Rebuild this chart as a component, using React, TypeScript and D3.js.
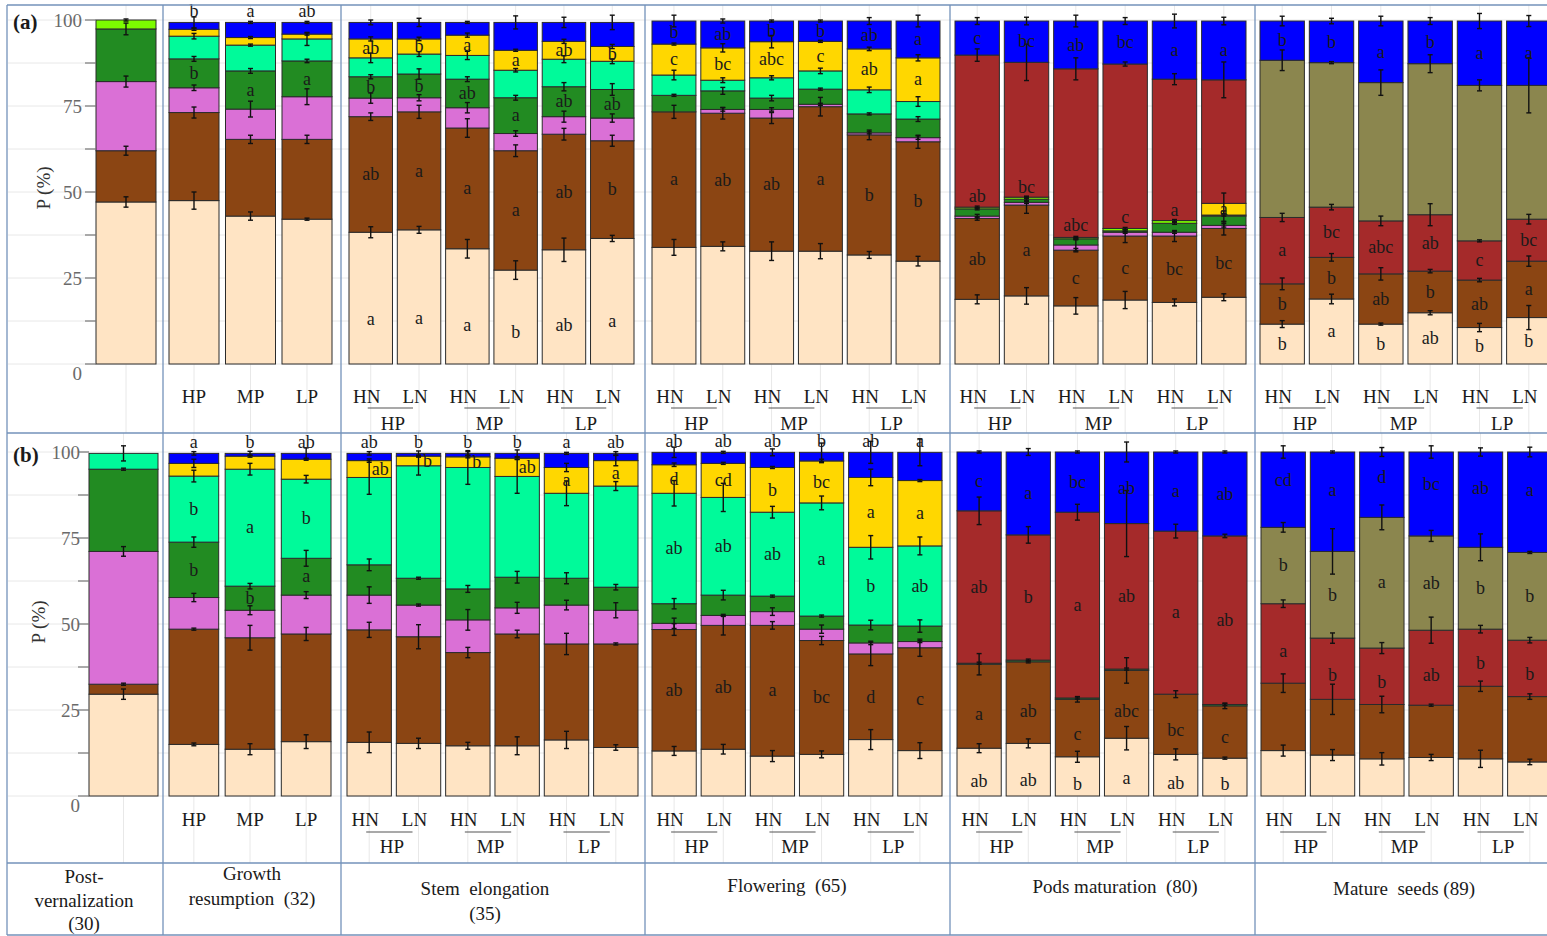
import * as d3 from "d3";

const W = 1547;
const H = 936;
const FONT = "'Liberation Serif', 'Times New Roman', serif";

const FILL: Record<string, string> = {
  bisque: "#FFE4C4",
  brown: "#8B4513",
  orchid: "#DA70D6",
  green: "#228B22",
  spring: "#00FA9A",
  lawn: "#7CFC00",
  gold: "#FFD700",
  red: "#A52A2A",
  khaki: "#8B864E",
  blue: "#0000FF",
};

// stack order per panel (bottom -> top)
const K_POST_A = ["bisque", "brown", "orchid", "green", "lawn"];
const K_POST_B = ["bisque", "brown", "orchid", "green", "spring"];
const K_MID = ["bisque", "brown", "orchid", "green", "spring", "gold", "blue"];
const K_PODS_A = ["bisque", "brown", "orchid", "green", "lawn", "gold", "red", "blue"];
const K_PODS_B = ["bisque", "brown", "green", "red", "blue"];
const K_SEED = ["bisque", "brown", "red", "khaki", "blue"];

const P_CATS = ["HP", "MP", "LP"];
const N_CATS = ["HN", "LN"];

const STAGE_LABELS = [
  ["Post-", "vernalization", "(30)"],
  ["Growth", "resumption  (32)"],
  ["Stem  elongation", "(35)"],
  ["Flowering  (65)"],
  ["Pods maturation  (80)"],
  ["Mature  seeds (89)"],
];

// ---------- (a) ----------
const postA = [[47.1, 14.9, 20.1, 15.3, 2.6]];
const postAErr = [[1.5, 1.3, 1.6, 1.7, 0.3]];

const growthA = [
  [47.5, 25.6, 7.2, 8.4, 6.6, 2.0, 2.0],
  [43.0, 22.3, 8.8, 11.1, 7.5, 2.2, 4.4],
  [42.1, 23.2, 12.4, 10.4, 6.4, 1.4, 3.4],
];
const growthAErr = [
  [2.5, 1.6, 0.8, 0.7, 0.8, 0.3, 1.6],
  [1.2, 1.2, 2.3, 0.7, 0.3, 0.3, 0.3],
  [0.3, 1.2, 2.3, 0.5, 1.9, 0.3, 0.3],
];
const growthALet = [
  ["", "", "", "b", "", "", "b"],
  ["", "", "", "a", "", "", "a"],
  ["", "", "", "a", "", "", "ab"],
];

const stemA = [
  [38.3, 33.6, 5.4, 6.2, 5.5, 5.5, 4.8],
  [39.0, 34.3, 4.1, 6.9, 5.8, 4.4, 4.8],
  [33.5, 35.1, 5.9, 8.3, 6.9, 5.9, 3.7],
  [27.3, 34.7, 5.0, 10.4, 8.0, 5.8, 8.1],
  [33.2, 33.6, 5.1, 8.7, 8.0, 5.2, 5.5],
  [36.5, 28.4, 6.6, 8.3, 8.2, 4.3, 7.0],
];
const stemAErr = [
  [1.6, 1.1, 1.5, 0.6, 1.4, 0.6, 0.7],
  [1.0, 1.9, 0.9, 1.5, 0.7, 0.5, 1.2],
  [2.7, 2.7, 1.5, 0.7, 1.2, 0.6, 0.3],
  [2.7, 1.7, 0.8, 0.7, 0.5, 0.3, 1.9],
  [3.4, 1.7, 1.6, 1.2, 1.0, 0.6, 1.5],
  [0.9, 1.6, 1.2, 1.7, 0.7, 0.6, 2.1],
];
const stemALet = [
  ["a", "ab", "", "b", "", "ab", ""],
  ["a", "a", "", "b", "", "b", ""],
  ["a", "a", "", "ab", "", "a", ""],
  ["b", "a", "", "a", "", "a", ""],
  ["ab", "ab", "", "ab", "", "ab", ""],
  ["a", "b", "", "ab", "", "b", ""],
];

const flowerA = [
  [33.9, 39.4, 0.0, 4.8, 5.9, 9.0, 6.7],
  [34.2, 38.7, 1.1, 5.4, 3.1, 9.4, 7.8],
  [32.8, 38.7, 2.5, 3.3, 5.9, 10.5, 6.0],
  [32.8, 42.0, 0.7, 4.4, 5.3, 8.6, 5.9],
  [31.7, 34.9, 0.6, 5.5, 7.0, 11.9, 8.1],
  [29.9, 34.7, 1.2, 5.4, 5.1, 12.7, 10.7],
];
const flowerAErr = [
  [2.3, 1.9, 0.0, 0.3, 1.4, 0.3, 1.7],
  [1.3, 1.7, 0.5, 1.0, 0.7, 1.2, 0.6],
  [2.7, 1.6, 0.5, 0.8, 0.6, 1.8, 0.3],
  [2.2, 2.7, 0.3, 0.3, 0.8, 0.3, 0.3],
  [1.0, 1.4, 0.3, 0.3, 0.8, 0.5, 1.0],
  [1.4, 1.9, 0.5, 0.7, 1.4, 0.9, 1.7],
];
const flowerALet = [
  ["", "a", "", "", "", "c", "b"],
  ["", "ab", "", "", "", "bc", "ab"],
  ["", "ab", "", "", "", "abc", "b"],
  ["", "a", "", "", "", "c", "b"],
  ["", "b", "", "", "", "ab", "ab"],
  ["", "b", "", "", "", "a", "a"],
];

const podsA = [
  [18.8, 23.5, 0.7, 2.1, 0.5, 0.0, 44.2, 9.9],
  [19.8, 26.4, 0.8, 0.9, 0.6, 0.0, 39.2, 12.0],
  [16.9, 16.2, 1.5, 1.8, 0.4, 0.0, 49.0, 13.9],
  [18.6, 18.6, 1.1, 0.4, 0.7, 0.0, 47.8, 12.5],
  [17.9, 19.3, 1.1, 2.6, 0.8, 0.0, 41.1, 16.9],
  [19.4, 20.0, 0.9, 2.7, 0.3, 3.4, 35.9, 17.1],
];
const podsAErr = [
  [1.3, 0.5, 0.5, 0.3, 0.3, 0.0, 1.8, 1.0],
  [2.4, 2.4, 0.3, 0.3, 0.3, 0.0, 5.3, 1.1],
  [2.4, 0.5, 1.7, 0.3, 0.3, 0.0, 3.2, 1.7],
  [2.5, 1.9, 0.3, 0.3, 0.3, 0.0, 0.6, 1.0],
  [1.0, 1.6, 0.3, 0.3, 0.3, 0.0, 1.6, 2.0],
  [1.0, 1.9, 0.5, 1.5, 0.3, 3.0, 5.2, 1.1],
];
const podsALet = [
  ["", "ab", "", "", "", "", "ab", "c"],
  ["", "a", "", "", "", "", "bc", "bc"],
  ["", "c", "", "", "", "", "abc", "ab"],
  ["", "c", "", "", "", "", "c", "bc"],
  ["", "bc", "", "", "", "", "a", "a"],
  ["", "bc", "", "", "", "a", "", "a"],
];

const seedA = [
  [11.6, 11.7, 19.3, 45.7, 11.4],
  [18.9, 12.1, 14.6, 42.0, 12.1],
  [11.6, 14.6, 15.4, 40.2, 17.9],
  [14.9, 12.1, 16.4, 43.9, 12.4],
  [10.6, 13.8, 11.4, 45.2, 18.7],
  [13.5, 16.4, 12.2, 38.9, 18.7],
];
const seedAErr = [
  [1.0, 1.7, 1.2, 3.0, 1.4],
  [1.4, 1.1, 0.8, 0.3, 0.8],
  [0.3, 1.8, 1.4, 3.7, 1.4],
  [0.6, 0.5, 3.2, 2.6, 1.0],
  [1.2, 0.5, 0.3, 1.6, 2.2],
  [3.5, 1.5, 1.4, 8.0, 1.6],
];
const seedALet = [
  ["b", "b", "a", "", "b"],
  ["a", "b", "bc", "", "b"],
  ["b", "ab", "abc", "", "a"],
  ["ab", "b", "ab", "", "b"],
  ["b", "ab", "c", "", "a"],
  ["b", "a", "bc", "", "a"],
];

// ---------- (b) ----------
const postB = [[29.6, 2.9, 38.6, 23.9, 4.6]];
const postBErr = [[1.5, 0.3, 1.4, 0.3, 2.2]];

const growthB = [
  [15.0, 33.5, 9.2, 16.1, 19.2, 3.7, 2.9],
  [13.6, 32.4, 8.0, 7.0, 34.0, 3.8, 0.8],
  [15.8, 31.3, 11.3, 10.7, 23.0, 5.8, 1.7],
];
const growthBErr = [
  [0.4, 0.3, 1.2, 1.5, 1.7, 1.2, 0.5],
  [1.6, 3.6, 1.3, 0.8, 1.7, 0.3, 0.6],
  [2.0, 1.9, 1.0, 2.3, 1.1, 0.3, 1.6],
];
const growthBLet = [
  ["", "", "", "b", "b", "", "a"],
  ["", "", "", "b", "a", "", "b"],
  ["", "", "", "a", "b", "", "ab"],
];

const stemB = [
  [15.6, 32.7, 10.1, 8.8, 25.4, 4.9, 2.1],
  [15.3, 31.0, 9.2, 7.8, 32.7, 2.8, 0.8],
  [14.6, 27.1, 9.5, 9.0, 35.3, 3.1, 1.0],
  [14.6, 32.5, 7.6, 8.9, 29.3, 5.3, 1.4],
  [16.3, 27.9, 11.3, 7.8, 24.7, 7.5, 4.1],
  [14.1, 30.1, 9.8, 6.7, 29.4, 7.4, 2.1],
];
const stemBErr = [
  [3.0, 2.2, 2.4, 1.7, 4.9, 0.5, 0.5],
  [1.5, 3.5, 0.3, 0.3, 2.7, 0.3, 0.7],
  [1.0, 1.5, 3.0, 1.0, 4.9, 0.3, 0.5],
  [2.6, 1.1, 1.6, 1.7, 4.9, 0.3, 1.0],
  [2.5, 3.1, 1.4, 1.6, 3.6, 1.2, 0.3],
  [0.8, 0.3, 2.2, 0.8, 1.3, 1.5, 0.5],
];
const stemBLet = [
  ["", "", "", "", "", "ab", "ab"],
  ["", "", "", "", "", "b", "b"],
  ["", "", "", "", "", "b", "b"],
  ["", "", "", "", "", "ab", "b"],
  ["", "", "", "", "", "a", "a"],
  ["", "", "", "", "", "a", "ab"],
];

const flowerB = [
  [13.1, 35.3, 1.8, 5.7, 32.1, 8.3, 3.6],
  [13.6, 36.0, 2.9, 5.9, 28.4, 9.9, 3.2],
  [11.6, 38.0, 4.0, 4.5, 24.4, 13.0, 4.4],
  [12.1, 33.1, 3.3, 3.8, 32.9, 12.2, 2.5],
  [16.4, 24.9, 3.2, 5.2, 22.6, 20.3, 7.3],
  [13.2, 29.9, 1.8, 4.5, 23.3, 19.0, 8.2],
];
const flowerBErr = [
  [1.3, 1.7, 1.5, 1.5, 3.7, 0.5, 1.5],
  [1.4, 2.8, 0.3, 1.4, 4.1, 0.3, 0.3],
  [1.6, 1.1, 1.1, 0.3, 1.7, 0.3, 1.0],
  [1.0, 1.2, 1.2, 0.3, 2.0, 0.5, 2.7],
  [2.9, 3.4, 0.5, 1.4, 3.4, 2.4, 3.2],
  [2.3, 2.5, 0.3, 1.8, 2.6, 0.3, 3.9],
];
const flowerBLet = [
  ["", "ab", "", "", "ab", "d", "ab"],
  ["", "ab", "", "", "ab", "cd", "ab"],
  ["", "a", "", "", "ab", "b", "ab"],
  ["", "bc", "", "", "a", "bc", "b"],
  ["", "d", "", "", "b", "a", "ab"],
  ["", "c", "", "", "ab", "a", "a"],
];

const podsB = [
  [13.9, 24.4, 0.3, 44.3, 17.1],
  [15.3, 23.7, 0.5, 36.4, 24.1],
  [11.4, 16.7, 0.4, 54.0, 17.5],
  [16.8, 19.7, 0.4, 42.3, 20.8],
  [12.1, 17.5, 0.0, 47.4, 23.0],
  [11.0, 15.2, 0.4, 49.0, 24.4],
];
const podsBErr = [
  [1.3, 3.1, 0.3, 4.0, 0.3],
  [1.3, 0.3, 0.3, 2.4, 1.0],
  [1.6, 0.8, 0.3, 2.3, 0.3],
  [3.4, 3.7, 0.3, 9.6, 2.9],
  [1.6, 1.0, 0.0, 2.0, 0.3],
  [0.3, 0.8, 0.3, 0.5, 0.3],
];
const podsBLet = [
  ["ab", "a", "", "ab", "c"],
  ["ab", "ab", "", "b", "a"],
  ["b", "c", "", "a", "bc"],
  ["a", "abc", "", "ab", "ab"],
  ["ab", "bc", "", "a", "a"],
  ["b", "c", "", "ab", "ab"],
];

const seedB = [
  [13.2, 19.6, 23.1, 22.2, 21.9],
  [11.9, 16.2, 17.8, 25.2, 28.9],
  [10.8, 15.8, 16.4, 38.0, 19.0],
  [11.2, 15.2, 21.8, 27.4, 24.4],
  [10.8, 21.1, 16.6, 23.8, 27.7],
  [9.9, 19.0, 16.4, 25.5, 29.2],
];
const seedBErr = [
  [1.6, 2.7, 1.1, 1.4, 1.8],
  [1.6, 4.4, 1.5, 6.6, 0.3],
  [1.8, 2.4, 1.6, 3.6, 1.3],
  [0.9, 0.3, 3.8, 1.6, 1.8],
  [2.5, 1.5, 1.1, 3.9, 1.2],
  [0.8, 0.8, 0.8, 0.3, 1.4],
];
const seedBLet = [
  ["", "", "a", "b", "cd"],
  ["", "", "b", "b", "a"],
  ["", "", "b", "a", "d"],
  ["", "", "ab", "ab", "bc"],
  ["", "", "b", "b", "ab"],
  ["", "", "b", "b", "a"],
];

// ---------- layout ----------
type Place = Record<string, number | "top">;
interface PanelDef {
  range: [number, number];
  keys: string[];
  vals: number[][];
  errs: number[][];
  lets?: string[][];
  place?: Place;
  shift?: Record<string, number[]>;
  kind: "none" | "p" | "np";
}

const PANELS_A: PanelDef[] = [
  { range: [96, 156], keys: K_POST_A, vals: postA, errs: postAErr, kind: "none" },
  { range: [169, 332], keys: K_MID, vals: growthA, errs: growthAErr, lets: growthALet, place: { blue: "top" }, kind: "p" },
  { range: [349, 634], keys: K_MID, vals: stemA, errs: stemAErr, lets: stemALet, place: { bisque: 0.34 }, kind: "np" },
  { range: [652, 940], keys: K_MID, vals: flowerA, errs: flowerAErr, lets: flowerALet, kind: "np" },
  { range: [955, 1246], keys: K_PODS_A, vals: podsA, errs: podsAErr, lets: podsALet, place: { red: 0.07 }, kind: "np" },
  { range: [1260, 1551], keys: K_SEED, vals: seedA, errs: seedAErr, lets: seedALet, kind: "np" },
];

const PANELS_B: PanelDef[] = [
  { range: [89, 158], keys: K_POST_B, vals: postB, errs: postBErr, kind: "none" },
  { range: [169, 331], keys: K_MID, vals: growthB, errs: growthBErr, lets: growthBLet, place: { blue: "top" }, kind: "p" },
  {
    range: [347, 638], keys: K_MID, vals: stemB, errs: stemBErr, lets: stemBLet,
    place: { blue: "top" }, shift: { gold: [11, 9, 9, 10, 0, 0] }, kind: "np",
  },
  { range: [652, 942], keys: K_MID, vals: flowerB, errs: flowerBErr, lets: flowerBLet, place: { blue: "top" }, kind: "np" },
  { range: [957, 1247], keys: K_PODS_B, vals: podsB, errs: podsBErr, lets: podsBLet, place: { bisque: 0.3, brown: 0.4 }, kind: "np" },
  { range: [1261, 1552], keys: K_SEED, vals: seedB, errs: seedBErr, lets: seedBLet, place: { blue: 0.62, red: 0.4 }, kind: "np" },
];

interface RowDef {
  tag: string;
  y0: number;
  y1: number;
  top: number;
  bottom: number;
  tickX: [number, number];
  labX: number;
  pX: number;
  pY: number;
  tagY: number;
  lab1: number;
  uline: number;
  lab2: number;
  panels: PanelDef[];
}

const ROWS: RowDef[] = [
  { tag: "(a)", y0: 364, y1: 20, top: 5, bottom: 433, tickX: [85, 96], labX: 82, pX: 50, pY: 188, tagY: 29, lab1: 403, uline: 408, lab2: 430, panels: PANELS_A },
  { tag: "(b)", y0: 796, y1: 452, top: 433, bottom: 863, tickX: [78, 89], labX: 80, pX: 45, pY: 622, tagY: 462, lab1: 826, uline: 832, lab2: 853, panels: PANELS_B },
];

const DIVIDERS = [163, 341, 645, 950, 1255];
const STAGE_X = [84, 252, 485, 787, 1115, 1404];
const STAGE_Y = [[883, 907, 930], [880, 905], [895, 920], [892], [893], [895]];
const BORDER = "#7392BA";
const GRID = "#e8e8e8";

function Panel({ def, row }: { def: PanelDef; row: RowDef }) {
  const n = def.vals.length;
  const y = d3.scaleLinear().domain([0, 100]).range([row.y0, row.y1]);
  const x = d3
    .scaleBand<number>()
    .domain(d3.range(n))
    .range(def.range)
    .paddingInner(n === 1 ? 0 : n === 3 ? 0.115 : 0.1);
  const bw = x.bandwidth();
  const cx = (i: number) => (x(i) as number) + bw / 2;

  const table = def.vals.map((r) => Object.fromEntries(def.keys.map((k, i) => [k, r[i]])));
  const series = d3.stack<any>().keys(def.keys)(table);
  const place = def.place || {};
  const shift = def.shift || {};

  return (
    <g>
      {/* vertical grid at bar centres */}
      {d3.range(n).map((i) => (
        <line key={"vg" + i} x1={cx(i)} x2={cx(i)} y1={row.top} y2={row.bottom} stroke={GRID} />
      ))}
      {/* segments */}
      {series.map((s) =>
        s.map((d, i) =>
          d[1] - d[0] > 0 ? (
            <rect
              key={s.key + i}
              x={x(i)}
              width={bw}
              y={y(d[1])}
              height={y(d[0]) - y(d[1])}
              fill={FILL[s.key]}
              stroke="#2b2b2b"
              strokeWidth={1}
            />
          ) : null
        )
      )}
      {/* error bars */}
      {series.map((s, si) =>
        s.map((d, i) => {
          const e = def.errs[i][si];
          if (!(e > 0) || d[1] - d[0] <= 0) return null;
          const c = cx(i);
          const ya = y(d[1] + e);
          const yb = y(d[1] - e);
          return (
            <g key={"e" + s.key + i} stroke="#111" strokeWidth={1.4}>
              <line x1={c} x2={c} y1={ya} y2={yb} />
              <line x1={c - 2.5} x2={c + 2.5} y1={ya} y2={ya} />
              <line x1={c - 2.5} x2={c + 2.5} y1={yb} y2={yb} />
            </g>
          );
        })
      )}
      {/* significance letters */}
      {def.lets &&
        series.map((s, si) =>
          s.map((d, i) => {
            const t = def.lets![i][si];
            if (!t) return null;
            const p = place[s.key] ?? 0.5;
            const dx = shift[s.key] ? shift[s.key][i] : 0;
            if (p === "top") {
              const barTop = y(series[series.length - 1][i][1]);
              return (
                <text key={"l" + s.key + i} x={cx(i) + dx} y={barTop - 5} textAnchor="middle" fontSize={18} fill="#1a1a1a">
                  {t}
                </text>
              );
            }
            const v = d[0] + (d[1] - d[0]) * (p as number);
            return (
              <text key={"l" + s.key + i} x={cx(i) + dx} y={y(v)} dy="0.32em" textAnchor="middle" fontSize={18} fill="#1a1a1a">
                {t}
              </text>
            );
          })
        )}
      {/* x labels */}
      {def.kind === "p" &&
        P_CATS.map((c, i) => (
          <text key={c} x={cx(i)} y={row.lab1} textAnchor="middle" fontSize={19} fill="#1a1a1a">
            {c}
          </text>
        ))}
      {def.kind === "np" &&
        P_CATS.map((c, g) => {
          const c1 = cx(2 * g);
          const c2 = cx(2 * g + 1);
          return (
            <g key={c} fontSize={19} fill="#1a1a1a" textAnchor="middle">
              <text x={c1 - 4} y={row.lab1}>{N_CATS[0]}</text>
              <text x={c2 - 4} y={row.lab1}>{N_CATS[1]}</text>
              <line x1={c1 - 3} x2={c2 - 6} y1={row.uline} y2={row.uline} stroke="#555" strokeWidth={1.2} />
              <text x={(c1 + c2) / 2 - 2} y={row.lab2}>{c}</text>
            </g>
          );
        })}
    </g>
  );
}

function Row({ row }: { row: RowDef }) {
  const y = d3.scaleLinear().domain([0, 100]).range([row.y0, row.y1]);
  const ticks = d3.range(0, 100.1, 12.5);
  const labels = [0, 25, 50, 75, 100];
  return (
    <g>
      {/* horizontal grid */}
      {ticks.map((t) => (
        <line key={"hg" + t} x1={8} x2={W} y1={y(t)} y2={y(t)} stroke={GRID} />
      ))}
      {row.panels.map((p, i) => (
        <Panel key={i} def={p} row={row} />
      ))}
      {/* y axis */}
      {ticks.map((t) => (
        <line key={"t" + t} x1={row.tickX[0]} x2={row.tickX[1]} y1={y(t)} y2={y(t)} stroke="#777" strokeWidth={1.2} />
      ))}
      {labels.map((t) => (
        <text
          key={"yl" + t}
          x={row.labX}
          y={y(t) + (t === 0 ? 9 : 0)}
          dy="0.35em"
          textAnchor="end"
          fontSize={19}
          fill="#6a6a6a"
        >
          {t}
        </text>
      ))}
      <text
        transform={`translate(${row.pX},${row.pY}) rotate(-90)`}
        textAnchor="middle"
        fontSize={19}
        fill="#333"
      >
        P (%)
      </text>
      <text x={13} y={row.tagY} fontSize={21} fontWeight="bold" fill="#1a1a1a">
        {row.tag}
      </text>
    </g>
  );
}

export default function App() {
  return (
    <svg
      width={W}
      height={H}
      style={{ position: "absolute", left: 0, top: 0, background: "#fff", fontFamily: FONT }}
      fontFamily={FONT}
    >
      <rect width={W} height={H} fill="#fff" />
      {ROWS.map((r) => (
        <Row key={r.tag} row={r} />
      ))}
      {/* stage labels */}
      {STAGE_LABELS.map((lines, i) => (
        <g key={"s" + i} fontSize={19} fill="#1a1a1a" textAnchor="middle">
          {lines.map((l, j) => (
            <text key={j} x={STAGE_X[i]} y={STAGE_Y[i][j]} style={{ whiteSpace: "pre" }}>
              {l}
            </text>
          ))}
        </g>
      ))}
      {/* table frame */}
      <g stroke={BORDER} strokeWidth={1.3} fill="none">
        <line x1={7} x2={W} y1={5} y2={5} />
        <line x1={7} x2={W} y1={433} y2={433} />
        <line x1={7} x2={W} y1={863} y2={863} />
        <line x1={7} x2={W} y1={935} y2={935} />
        <line x1={7} x2={7} y1={5} y2={935} />
        {DIVIDERS.map((d) => (
          <line key={d} x1={d} x2={d} y1={5} y2={935} />
        ))}
      </g>
    </svg>
  );
}
